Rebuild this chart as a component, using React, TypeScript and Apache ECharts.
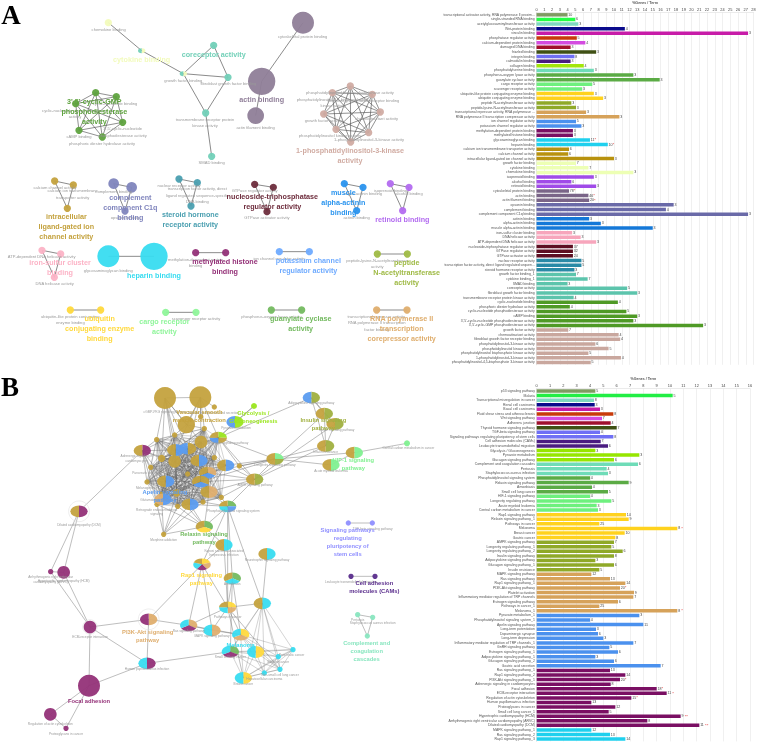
import React, { useEffect, useRef } from "react";
import * as echarts from "echarts";

// ---------- palette ----------
const P: Record<string, string> = {
  gold: "#c4a23e", blue: "#5b9cf0", lime: "#9be61f", olive: "#a0b040", mint: "#80f090", purple: "#943178",
  cyan: "#38dcf0", yel: "#ffd93d", peach: "#dfae6e", green: "#74ba60", pale: "#f2fbbc", seafoam: "#72d0b8",
  mauve: "#8f7e98", cgmp: "#5fa33f", rosy: "#d1aca3", slate: "#8085bd", teal: "#4a9fb0", maroon: "#6e2d3d",
  sky: "#2a94ee", violet: "#b36cf0", pink: "#fcb3c6", lblue: "#6fabff", pepolive: "#9fba45", indigo: "#5a2d8c",
  aqua: "#8ae6c0", peri: "#8f8fff", lgreen: "#8ff59a",
};

// ---------- bar chart A ----------
const catsA = [
  "transcriptional activator activity, RNA polymerase II proxim...", "single-stranded RNA binding", "acetylglucosaminyltransferase activity", "Wnt-protein binding", "vinculin binding", "phosphatase regulator activity", "calcium-dependent protein binding", "damaged DNA binding", "frizzled binding", "integrin binding", "calmodulin binding", "collagen binding", "phosphatidylserine binding", "phosphorus-oxygen lyase activity", "guanylate cyclase activity", "cargo receptor activity", "scavenger receptor activity", "ubiquitin-like protein conjugating enzyme binding", "ubiquitin conjugating enzyme binding", "peptide N-acetyltransferase activity", "peptide-lysine-N-acetyltransferase activity", "transcriptional repressor activity, RNA polymerase ...", "RNA polymerase II transcription corepressor activity", "ion channel regulator activity", "potassium channel regulator activity", "methylation-dependent protein binding", "methylated histone binding", "glycosaminoglycan binding", "heparin binding", "calcium ion transmembrane transporter activity", "calcium channel activity", "intracellular ligand-gated ion channel activity", "growth factor binding", "cytokine binding", "chemokine binding", "isoprenoid binding", "alcohol binding", "retinoid binding", "cytoskeletal protein binding", "actin binding", "actin filament binding", "opsonin binding", "complement binding", "complement component C1q binding", "actinin binding", "alpha-actinin binding", "muscle alpha-actinin binding", "iron-sulfur cluster binding", "DNA helicase activity", "ATP-dependent DNA helicase activity", "nucleoside-triphosphatase regulator activity", "GTPase regulator activity", "GTPase activator activity", "nuclear receptor activity", "transcription factor activity, direct ligand regulated sequen...", "steroid hormone receptor activity", "growth factor binding_1", "cytokine binding_1", "SMAD binding", "coreceptor activity", "fibroblast growth factor binding", "transmembrane receptor protein kinase activity", "cyclic-nucleotide binding", "phosphoric diester hydrolase activity", "cyclic-nucleotide phosphodiesterase activity", "cAMP binding", "3',5'-cyclic-nucleotide phosphodiesterase activity", "3',5'-cyclic-GMP phosphodiesterase activity", "growth factor activity", "chemoattractant activity", "fibroblast growth factor receptor binding", "phosphatidylinositol-3-kinase activity", "phosphatidylinositol kinase activity", "phosphatidylinositol bisphosphate kinase activity", "1-phosphatidylinositol-3-kinase activity", "phosphatidylinositol-4,5-bisphosphate 3-kinase activity",
];
const valsA = [4.0, 5.0, 5.4, 11.4, 27.3, 5.2, 6.3, 4.4, 7.7, 4.9, 4.4, 6.1, 7.4, 12.5, 15.9, 7.2, 5.9, 7.4, 8.6, 4.5, 5.1, 6.4, 10.7, 5.1, 5.8, 4.7, 4.7, 6.9, 9.2, 4.2, 4.1, 10.0, 5.1, 6.7, 12.5, 7.4, 4.5, 7.7, 4.2, 6.7, 6.8, 17.7, 16.7, 27.3, 6.8, 8.3, 15.0, 4.6, 5.7, 7.7, 4.7, 4.7, 4.7, 5.8, 5.8, 4.9, 5.1, 6.6, 4.0, 11.7, 13.0, 4.8, 10.5, 4.3, 11.6, 13.0, 12.5, 21.5, 4.1, 10.6, 10.8, 7.6, 9.3, 6.7, 10.9, 7.0];
const labelsA = ["10", "6", "3", "4", "3", "5", "4", "3", "3", "8", "3", "4", "3", "3", "3", "5", "3", "3", "3", "3", "3", "3", "3", "5", "3", "3", "3", "11*", "10*", "6", "6", "3", "7", "7", "3", "3", "6", "3", "78*", "46*", "20*", "3", "4", "3", "3", "3", "3", "3", "3", "3", "37", "32", "24", "5", "5", "3", "7", "7", "3", "5", "3", "4", "4", "4", "5", "3", "3", "3", "7", "4", "4", "6", "5", "5", "4", "5"];
const groupsA: [string, number][] = [["#7f9a62", 1], ["#22ff44", 1], ["#7fd8c0", 1], ["#0a0a8c", 1], ["#c71ca8", 1], ["#c83a0a", 1], ["#d44be0", 1], ["#a0102e", 1], ["#3f5014", 1], ["#6f6ff5", 1], ["#4a1c80", 1], ["#a3e60a", 1], ["#6fdcb8", 1], ["#5bab45", 2], ["#6ef07e", 2], ["#ffd21e", 2], ["#8fa928", 2], ["#d6a25a", 2], ["#4b91ee", 2], ["#7a0f63", 2], ["#1fd0ee", 2], ["#b8920e", 3], ["#edffb4", 3], ["#a04be8", 3], ["#7a6488", 3], ["#6a6aa8", 3], ["#1478d8", 3], ["#f7a6bc", 3], ["#5e0f22", 3], ["#2a8aa6", 3], ["#5cc4ac", 6], ["#4f9a26", 6], ["#c9a79e", 8]];

// ---------- bar chart B ----------
const catsB = [
  "p53 signaling pathway", "Malaria", "Transcriptional misregulation in cancer", "Renal cell carcinoma", "Basal cell carcinoma", "Fluid shear stress and atherosclerosis", "Wnt signaling pathway", "Adherens junction", "Thyroid hormone signaling pathway", "TGF-beta signaling pathway", "Signaling pathways regulating pluripotency of stem cells", "Cell adhesion molecules (CAMs)", "Leukocyte transendothelial migration", "Glycolysis / Gluconeogenesis", "Pyruvate metabolism", "Glucagon signaling pathway", "Complement and coagulation cascades", "Pertussis", "Staphylococcus aureus infection", "Phosphatidylinositol signaling system", "Relaxin signaling pathway", "Amoebiasis", "Small cell lung cancer", "HIF-1 signaling pathway", "Longevity regulating pathway", "Acute myeloid leukemia", "Central carbon metabolism in cancer", "Rap1 signaling pathway", "Relaxin signaling pathway_1", "Pathways in cancer", "Melanoma", "Breast cancer", "Gastric cancer", "AMPK signaling pathway", "Longevity regulating pathway_1", "Longevity regulating pathway_2", "Insulin signaling pathway", "Adipocytokine signaling pathway", "Glucagon signaling pathway_1", "Insulin resistance", "MAPK signaling pathway", "Ras signaling pathway", "Rap1 signaling pathway_1", "PI3K-Akt signaling pathway", "Platelet activation", "Inflammatory mediator regulation of TRP channels", "Estrogen signaling pathway", "Pathways in cancer_1", "Melanoma_1", "Pyruvate metabolism_1", "Phosphatidylinositol signaling system_1", "Apelin signaling pathway", "Long-term potentiation", "Dopaminergic synapse", "Long-term depression", "Inflammatory mediator regulation of TRP channels_1", "GnRH signaling pathway", "Estrogen signaling pathway_1", "Adipocytokine signaling pathway_1", "Glucagon signaling pathway_2", "Gastric acid secretion", "Ras signaling pathway_1", "Rap1 signaling pathway_2", "PI3K-Akt signaling pathway_1", "Adrenergic signaling in cardiomyocytes", "Focal adhesion", "ECM-receptor interaction", "Regulation of actin cytoskeleton", "Human papillomavirus infection", "Proteoglycans in cancer", "Small cell lung cancer_1", "Hypertrophic cardiomyopathy (HCM)", "Arrhythmogenic right ventricular cardiomyopathy (ARVC)", "Dilated cardiomyopathy (DCM)", "MAPK signaling pathway_1", "Ras signaling pathway_2", "Rap1 signaling pathway_3",
];
const valsB = [4.4, 10.2, 4.3, 4.35, 4.75, 5.75, 4.9, 5.55, 6.0, 4.75, 5.75, 4.8, 5.35, 4.4, 7.7, 5.8, 7.6, 5.25, 5.35, 4.0, 6.9, 4.15, 5.35, 4.0, 5.6, 4.5, 4.6, 6.7, 6.9, 4.7, 10.55, 6.6, 5.9, 5.8, 5.6, 6.45, 5.8, 4.4, 5.8, 4.7, 4.1, 5.5, 6.65, 6.25, 7.3, 7.25, 6.1, 4.7, 10.55, 7.7, 4.0, 8.0, 4.45, 4.6, 5.0, 7.25, 5.45, 6.1, 4.4, 5.8, 9.3, 5.5, 6.65, 6.25, 5.55, 9.0, 9.75, 7.1, 4.1, 5.9, 5.4, 10.8, 8.3, 12.2, 4.1, 5.5, 6.65];
const labelsB = ["5", "5", "8", "3", "3", "8", "7", "4", "7", "4", "8", "7", "6", "3", "3", "6", "6", "4", "3", "4", "9", "4", "5", "4", "5", "3", "3", "14", "9", "25", "8 *", "10", "8", "7", "5", "6", "8", "3", "6", "5", "12", "13", "14", "20*", "9", "7", "6", "25", "8 *", "3", "4", "11", "3", "6", "3", "7", "5", "6", "3", "6", "7", "13", "14", "20*", "8", "18*", "11 *", "15*", "13", "12", "5", "9 **", "8", "11 **", "12", "13", "14"];
const groupsB: [string, number][] = [["#7f9a62", 1], ["#22ee44", 1], ["#7fd8c0", 1], ["#0a0a8c", 1], ["#c71ca8", 1], ["#c83a0a", 1], ["#d44be0", 1], ["#a0102e", 1], ["#3f5014", 1], ["#6f6ff5", 2], ["#4a1c80", 2], ["#96e600", 3], ["#6fdcb8", 3], ["#5bab45", 4], ["#6ef07e", 4], ["#ffd21e", 6], ["#8fa928", 7], ["#d6a25a", 9], ["#4b91ee", 12], ["#7a0f63", 13], ["#1fd0ee", 3]];

// ---------- networks: [id, x, y, radius, colours clockwise from 12 o'clock] in units of 1/3 pixel ----------
type N = [string, number, number, number, string[]];
const one = (k: string) => [k];
const nodesA1: N[] = [
  ["chem", 325, 68, 11, one("pale")], ["cyto", 425, 152, 11, ["pale", "seafoam"]], ["gf", 550, 221, 11, ["pale", "seafoam"]], ["core", 641, 136, 11, one("seafoam")], ["fgf", 684, 232, 11, one("seafoam")], ["trpk", 617, 339, 11, one("seafoam")], ["smad", 635, 469, 11, one("seafoam")],
  ["csk", 909, 68, 33, one("mauve")], ["act", 785, 244, 41, one("mauve")], ["actf", 767, 347, 25, one("mauve")],
  ["c1", 287, 278, 11, one("cgmp")], ["c2", 349, 290, 11, one("cgmp")], ["c3", 368, 367, 11, one("cgmp")], ["c4", 307, 411, 11, one("cgmp")], ["c5", 237, 391, 11, one("cgmp")], ["c6", 227, 311, 11, one("cgmp")],
  ["k1", 1051, 258, 11, one("rosy")], ["k2", 1117, 283, 11, one("rosy")], ["k3", 1141, 336, 11, one("rosy")], ["k4", 1106, 398, 11, one("rosy")], ["k5", 1052, 426, 11, one("rosy")], ["k6", 1008, 388, 11, one("rosy")], ["k7", 971, 342, 11, one("rosy")], ["k8", 997, 278, 11, one("rosy")],
];
const nodesA2: N[] = [
  ["ic1", 164, 18, 11, one("gold")], ["ic2", 220, 30, 11, one("gold")], ["ic3", 202, 100, 11, one("gold")],
  ["cp1", 341, 26, 16, one("slate")], ["cp2", 395, 37, 16, one("slate")], ["cp3", 375, 108, 11, one("slate")],
  ["st1", 537, 12, 11, one("teal")], ["st2", 592, 23, 11, one("teal")], ["st3", 573, 93, 11, one("teal")],
  ["nt1", 764, 28, 11, one("maroon")], ["nt2", 820, 37, 11, one("maroon")], ["nt3", 801, 110, 11, one("maroon")],
  ["mu1", 1033, 26, 11, one("sky")], ["mu2", 1089, 37, 11, one("sky")], ["mu3", 1070, 107, 11, one("sky")],
  ["re1", 1171, 26, 11, one("violet")], ["re2", 1227, 37, 11, one("violet")], ["re3", 1208, 107, 11, one("violet")],
  ["ir1", 126, 226, 11, one("pink")], ["ir2", 182, 237, 11, one("pink")], ["ir3", 163, 307, 11, one("pink")],
  ["he1", 325, 244, 33, one("cyan")], ["he2", 462, 244, 41, one("cyan")],
  ["me1", 587, 233, 11, one("purple")], ["me2", 677, 233, 11, one("purple")],
  ["po1", 838, 230, 11, one("lblue")], ["po2", 928, 230, 11, one("lblue")],
  ["pe1", 1132, 237, 11, one("pepolive")], ["pe2", 1222, 237, 11, one("pepolive")],
  ["ub1", 211, 405, 11, one("yel")], ["ub2", 302, 405, 11, one("yel")],
  ["ca1", 497, 412, 11, one("lgreen")], ["ca2", 588, 412, 11, one("lgreen")],
  ["gu1", 814, 405, 11, one("green")], ["gu2", 905, 405, 11, one("green")],
  ["rn1", 1130, 405, 11, one("peach")], ["rn2", 1221, 405, 11, one("peach")],
];
const nodesB1: N[] = [
  ["t1", 495, 69, 33, one("gold")], ["t2", 601, 67, 33, one("gold")], ["t3", 559, 149, 26, one("gold")], ["t4", 643, 96, 8, one("gold")], ["t5", 602, 125, 8, one("gold")], ["t6", 613, 161, 8, one("gold")], ["t7", 524, 180, 8, one("gold")], ["t8", 470, 194, 8, one("gold")], ["t9", 603, 201, 19, one("gold")], ["t10", 485, 250, 11, one("gold")], ["t11", 524, 259, 19, one("gold")], ["t12", 643, 248, 8, one("gold")], ["t13", 452, 277, 8, one("gold")], ["t14", 563, 297, 8, one("gold")], ["t15", 441, 321, 8, one("gold")], ["t16", 530, 354, 11, one("gold")], ["t17", 484, 358, 8, one("gold")], ["t18", 471, 388, 8, one("gold")], ["t19", 533, 394, 8, one("gold")], ["t20", 609, 381, 8, one("gold")], ["t21", 664, 367, 8, one("gold")], ["t22", 718, 273, 8, one("gold")], ["morph", 491, 478, 8, one("gold")],
  ["pyr", 705, 141, 26, ["lime", "blue"]], ["gly", 762, 93, 9, one("lime")], ["glu", 655, 188, 26, ["lime", "gold", "blue", "gold"]], ["adr", 427, 227, 26, ["purple", "gold"]],
  ["p1", 527, 225, 26, ["blue", "gold"]], ["p2", 563, 221, 26, ["gold", "blue"]], ["p3", 597, 257, 26, ["blue", "gold"]], ["p4", 677, 271, 26, ["blue", "gold"]], ["p5", 623, 293, 26, ["peach", "blue", "gold"]], ["p6", 497, 319, 26, ["blue", "gold"]], ["p7", 602, 320, 26, ["gold", "blue", "gold"]], ["p8", 627, 351, 26, ["peach", "gold"]], ["p9", 570, 388, 26, ["blue", "gold"]], ["p10", 489, 373, 26, ["blue", "peach"]],
  ["lon", 825, 252, 26, ["mint", "olive", "gold", "gold"]], ["amp", 764, 313, 26, ["olive", "gold"]], ["adi", 934, 68, 26, ["olive", "blue"]], ["ins1", 973, 116, 26, ["olive", "gold"]], ["ins2", 1005, 147, 26, ["olive", "gold"]], ["ins3", 977, 213, 26, ["olive", "gold"]], ["hif", 1063, 233, 26, ["mint", "gold"]], ["aml", 993, 270, 26, ["mint", "gold"]], ["ccm", 1221, 205, 9, one("mint")],
  ["dcm", 237, 409, 26, ["purple", "gold"]], ["sys", 683, 394, 26, ["green", "blue", "cyan", "gold"]], ["rel", 613, 455, 26, ["green", "yel", "gold"]], ["kap", 672, 510, 26, ["cyan", "gold"]], ["neu", 801, 537, 26, ["cyan", "gold"]],
  ["sp1", 1045, 444, 8, one("peri")], ["sp2", 1117, 444, 8, one("peri")],
];
const nodesB2: N[] = [
  ["arvc", 152, 50, 8, one("purple")], ["hcm", 191, 52, 19, one("purple")], ["ecm", 270, 216, 19, one("purple")], ["foc", 267, 392, 33, one("purple")], ["reg", 151, 478, 19, one("purple")], ["pro", 198, 520, 8, one("purple")],
  ["pi3", 446, 193, 26, ["peach", "purple"]], ["hpv", 441, 325, 26, ["purple", "cyan"]], ["ras", 566, 211, 26, ["peach", "purple", "cyan"]], ["mapk", 636, 226, 26, ["peach", "cyan"]], ["rap", 606, 28, 26, ["yel", "peach", "purple", "cyan", "gold"]], ["amo", 697, 70, 26, ["green", "cyan", "gold"]], ["pat", 683, 157, 26, ["yel", "peach", "cyan", "gold"]], ["gas", 787, 145, 26, ["cyan", "gold"]], ["mel", 722, 239, 26, ["yel", "peach", "cyan"]], ["scl", 691, 290, 26, ["green", "purple", "cyan"]], ["bcc", 767, 291, 26, ["yel", "cyan"]], ["brc", 730, 369, 26, ["yel", "cyan"]],
  ["q1", 835, 305, 8, one("cyan")], ["q2", 879, 284, 8, one("cyan")], ["q3", 840, 343, 8, one("cyan")], ["q4", 793, 354, 8, one("cyan")],
  ["cam1", 1053, 64, 8, one("indigo")], ["cam2", 1125, 64, 8, one("indigo")], ["co1", 1073, 179, 8, one("aqua")], ["co2", 1118, 187, 8, one("aqua")], ["co3", 1102, 243, 8, one("aqua")],
];
const ringIds = ["dcm", "ecm", "pi3"];

const cliquesHeavy: string[][] = [
  ["c1", "c2", "c3", "c4", "c5", "c6"],
  ["k1", "k2", "k3", "k4", "k5", "k6", "k7", "k8"],
];
const cliquesThin: string[][] = [
  ["t6", "t7", "t8", "t9", "t10", "t11", "t12", "t13", "t14", "t15", "t16", "t17", "t18", "t19", "t20", "t21", "glu", "p1", "p2", "p3", "p4", "p5", "p6", "p7", "p8", "p9", "p10"],
  ["mel", "scl", "bcc", "brc", "q1", "q2", "q3", "q4", "gas"],
];
const edgesA: [string, string][] = [
  ["chem", "cyto"], ["cyto", "gf"], ["gf", "core"], ["gf", "fgf"], ["gf", "trpk"], ["core", "fgf"], ["fgf", "trpk"], ["trpk", "smad"], ["csk", "act"], ["act", "actf"],
  ["ic1", "ic2"], ["ic1", "ic3"], ["ic2", "ic3"], ["cp1", "cp2"], ["cp1", "cp3"], ["cp2", "cp3"], ["st1", "st2"], ["st1", "st3"], ["st2", "st3"], ["nt1", "nt2"], ["nt1", "nt3"], ["nt2", "nt3"], ["mu1", "mu2"], ["mu1", "mu3"], ["mu2", "mu3"], ["re1", "re2"], ["re1", "re3"], ["re2", "re3"], ["ir1", "ir2"], ["ir1", "ir3"], ["ir2", "ir3"],
  ["he1", "he2"], ["me1", "me2"], ["po1", "po2"], ["pe1", "pe2"], ["ub1", "ub2"], ["ca1", "ca2"], ["gu1", "gu2"], ["rn1", "rn2"],
];
const edgesB: [string, string][] = [
  ["t1", "t2"], ["t1", "t3"], ["t1", "t7"], ["t1", "t8"], ["t1", "p1"], ["t1", "p2"], ["t1", "t9"], ["t1", "t10"], ["t1", "t11"], ["t2", "t4"], ["t2", "t3"], ["t2", "t5"], ["t2", "t6"], ["t2", "t9"], ["t2", "p2"], ["t2", "p1"], ["t2", "glu"], ["t3", "t6"], ["t3", "t7"],
  ["pyr", "gly"], ["pyr", "glu"], ["glu", "gly"], ["glu", "lon"], ["glu", "t22"], ["glu", "amp"], ["glu", "adi"], ["lon", "ins1"], ["lon", "ins3"], ["lon", "hif"], ["lon", "aml"], ["lon", "t22"], ["lon", "p4"], ["lon", "p5"], ["lon", "p7"], ["lon", "amp"], ["amp", "ins2"], ["amp", "ins3"], ["amp", "p5"], ["amp", "p8"], ["amp", "p4"], ["amp", "t21"], ["amp", "t22"], ["amp", "sys"], ["amp", "p7"],
  ["adi", "ins1"], ["adi", "ins2"], ["adi", "ins3"], ["ins1", "ins2"], ["ins1", "ins3"], ["ins2", "ins3"], ["hif", "ccm"], ["hif", "aml"],
  ["adr", "dcm"], ["adr", "t8"], ["adr", "t7"], ["adr", "t10"], ["adr", "p1"], ["adr", "t11"], ["adr", "t13"], ["adr", "t15"], ["adr", "p6"], ["adr", "t17"], ["adr", "t18"],
  ["morph", "t18"], ["morph", "t17"], ["morph", "t19"], ["morph", "p9"], ["morph", "t20"], ["morph", "t16"], ["morph", "rel"],
  ["rel", "sys"], ["rel", "p9"], ["rel", "p8"], ["rel", "t19"], ["rel", "p6"], ["rel", "t18"], ["rel", "kap"], ["sys", "t21"], ["sys", "p8"], ["sys", "p9"], ["sys", "t20"], ["sys", "amo"], ["sys", "rap"], ["sys", "pat"], ["sys", "gas"], ["kap", "pat"], ["kap", "rap"], ["neu", "gas"],
  ["dcm", "hcm"], ["dcm", "arvc"], ["hcm", "arvc"], ["hcm", "ecm"], ["arvc", "ecm"], ["ecm", "foc"], ["ecm", "pi3"], ["ecm", "hpv"], ["pi3", "hpv"], ["pi3", "rap"], ["pi3", "ras"], ["foc", "hpv"], ["foc", "reg"], ["foc", "pro"], ["reg", "pro"], ["hpv", "scl"],
  ["ras", "mapk"], ["ras", "rap"], ["mapk", "rap"], ["mapk", "mel"], ["mapk", "pat"], ["ras", "pat"], ["rap", "pat"], ["pat", "mel"], ["pat", "amo"], ["pat", "brc"], ["pat", "q3"], ["amo", "scl"], ["amo", "mel"], ["gas", "pat"], ["ras", "mel"],
  ["sp1", "sp2"], ["cam1", "cam2"], ["co1", "co2"], ["co1", "co3"], ["co2", "co3"],
];

// ---------- labels: [text, x, y of first line, colour key] ----------
type L = [string, number, number, string?];
const smallA1: L[] = [
  ["chemokine binding", 326, 88], ["cytoskeletal protein binding", 908, 110], ["growth factor binding", 550, 241], ["fibroblast growth factor binding", 685, 251], ["transmembrane receptor protein\nkinase activity", 615, 359], ["actin filament binding", 767, 382], ["SMAD binding", 635, 489], ["cyclic-nucleotide binding", 345, 310], ["cyclic-nucleotide phosphodiesterase\nactivity", 225, 332], ["3',5'-cyclic-nucleotide\nphosphodiesterase activity", 368, 387], ["cAMP binding", 237, 411], ["phosphoric diester hydrolase activity", 306, 431],
  ["phosphatidylinositol bisphosphate kinase activity", 1050, 278], ["phosphatidylinositol-4,5-bisphosphate 3-\nkinase activity", 1000, 298], ["fibroblast growth factor receptor binding", 1090, 303], ["growth factor activity", 970, 362], ["chemoattractant activity", 1130, 355], ["phosphatidylinositol kinase activity", 990, 408], ["1-phosphatidylinositol-3-kinase activity", 1107, 418],
];
const titleA1: L[] = [
  ["cytokine binding", 425, 179, "pale"], ["coreceptor activity", 641, 162, "seafoam"], ["actin binding", 785, 299, "mauve"], ["3',5'-cyclic-GMP\nphosphodiesterase\nactivity", 283, 305, "cgmp"], ["1-phosphatidylinositol-3-kinase\nactivity", 1050, 452, "rosy"],
];
const smallA2: L[] = [
  ["calcium channel activity", 165, 38], ["calcium ion transmembrane\ntransporter activity", 218, 48], ["complement binding", 341, 51], ["opsonin binding", 375, 128], ["nuclear receptor activity", 537, 31], ["transcription factor activity, direct\nligand regulated sequence-specific\nDNA binding", 592, 42], ["GTPase regulator activity", 764, 48], ["GTPase activator activity", 801, 129], ["actinin binding", 1070, 127], ["alpha-actinin binding", 1090, 57], ["isoprenoid binding", 1171, 46], ["alcohol binding", 1227, 57], ["ATP-dependent DNA helicase activity", 125, 245], ["DNA helicase activity", 164, 326], ["glycosaminoglycan binding", 325, 286], ["methylation-dependent protein\nbinding", 587, 253], ["ion channel regulator activity", 838, 250], ["peptide-lysine-N-acetyltransferase\nactivity", 1132, 256], ["ubiquitin-like protein conjugating\nenzyme binding", 211, 425], ["scavenger receptor activity", 588, 432], ["phosphorus-oxygen lyase activity", 814, 425], ["transcriptional repressor activity,\nRNA polymerase II transcription\nfactor binding", 1130, 425],
];
const titleA2: L[] = [
  ["intracellular\nligand-gated ion\nchannel activity", 199, 125, "gold"], ["complement\ncomponent C1q\nbinding", 391, 68, "slate"], ["steroid hormone\nreceptor activity", 571, 119, "teal"], ["nucleoside-triphosphatase\nregulator activity", 817, 63, "maroon"], ["muscle\nalpha-actinin\nbinding", 1030, 53, "sky"], ["retinoid binding", 1207, 133, "violet"], ["iron-sulfur cluster\nbinding", 180, 263, "pink"], ["heparin binding", 462, 301, "cyan"], ["methylated histone\nbinding", 675, 258, "purple"], ["potassium channel\nregulator activity", 925, 256, "lblue"], ["peptide\nN-acetyltransferase\nactivity", 1220, 262, "pepolive"], ["ubiquitin\nconjugating enzyme\nbinding", 299, 430, "yel"], ["cargo receptor\nactivity", 493, 438, "lgreen"], ["guanylate cyclase\nactivity", 902, 431, "green"], ["RNA polymerase II\ntranscription\ncorepressor activity", 1205, 430, "peach"],
];
const smallB1: L[] = [
  ["cGMP-PKG signaling pathway", 495, 110], ["Aldosterone synthesis and secretion", 640, 112], ["Pyruvate metabolism", 708, 157], ["Glucagon signaling pathway", 685, 204], ["Adipocytokine signaling pathway", 934, 84], ["Insulin signaling pathway", 1010, 163], ["Insulin resistance", 977, 229], ["Central carbon metabolism in cancer", 1225, 219], ["Acute myeloid leukemia", 993, 287], ["Longevity regulating pathway", 825, 268], ["AMPK signaling pathway", 765, 328], ["Adrenergic signaling in\ncardiomyocytes", 410, 243], ["Pancreatic secretion", 440, 293], ["Melanogenesis", 440, 337], ["Glutamatergic synapse", 470, 374], ["Retrograde endocannabinoid\nsignaling", 470, 404], ["Morphine addiction", 491, 493], ["Dilated cardiomyopathy (DCM)", 237, 449], ["Phosphatidylinositol signaling system", 700, 408], ["Kaposi sarcoma-associated\nherpesvirus infection", 672, 526], ["Neurotrophin signaling pathway", 801, 553], ["TGF-beta signaling pathway", 1118, 461],
];
const titleB1: L[] = [
  ["Vascular smooth\nmuscle contraction", 598, 112, "gold"], ["Glycolysis /\nGluconeogenesis", 760, 113, "lime"], ["Insulin signaling\npathway", 970, 136, "olive"], ["HIF-1 signaling\npathway", 1060, 255, "mint"], ["Apelin signaling\npathway", 495, 350, "blue"], ["Relaxin signaling\npathway", 612, 476, "green"], ["Signaling pathways\nregulating\npluripotency of\nstem cells", 1043, 466, "peri"],
];
const smallB2: L[] = [
  ["Arrhythmogenic right ventricular\ncardiomyopathy (ARVC)", 152, 66], ["Hypertrophic cardiomyopathy (HCM)", 191, 77], ["ECM-receptor interaction", 270, 244], ["Human papillomavirus infection", 441, 342], ["Regulation of actin cytoskeleton", 151, 506], ["Proteoglycans in cancer", 198, 535], ["Amoebiasis", 697, 86], ["Pathways in cancer", 683, 184], ["Ras signaling pathway", 566, 228], ["MAPK signaling pathway", 636, 243], ["Small cell lung cancer", 691, 306], ["Pancreatic cancer", 875, 300], ["Bladder cancer", 835, 321], ["Non-small cell lung cancer", 840, 358], ["Hepatocellular carcinoma", 793, 370], ["Breast cancer", 730, 385], ["Leukocyte transendothelial migration", 1053, 80], ["Pertussis", 1073, 195], ["Staphylococcus aureus infection", 1118, 203],
];
const titleB2: L[] = [
  ["PI3K-Akt signaling\npathway", 443, 230, "peach"], ["Focal adhesion", 267, 437, "purple"], ["Rap1 signaling\npathway", 604, 60, "yel"], ["Melanoma", 722, 271, "cyan"], ["Cell adhesion\nmolecules (CAMs)", 1123, 85, "indigo"], ["Complement and\ncoagulation\ncascades", 1100, 265, "aqua"],
];
const panelLetters: L[] = [["A", 33, 45], ["B", 30, 1160]];

// vertical offsets of each crop of the figure, in the same units
const DY = { a1: 0, a2: 525, b1: 1125, b2: 1665 };

const shiftN = (l: N[], dy: number): N[] => l.map((n) => [n[0], n[1], n[2] + dy, n[3], n[4]]);
const shiftL = (l: L[], dy: number): L[] => l.map((n) => [n[0], n[1], n[2] + dy, n[3]]);
const expand = (g: [string, number][]) => g.flatMap(([c, k]) => Array(k).fill(c));

const FONT = '"Liberation Sans", Arial, sans-serif';

function textSeries(list: L[], size: number, lh: number, weight: string, fill: string | null, family = FONT, z = 5) {
  return {
    type: "custom", coordinateSystem: "cartesian2d", xAxisIndex: 2, yAxisIndex: 2, silent: true, z,
    data: list.map((l, i) => [l[1], l[2], i]),
    encode: { x: 0, y: 1 },
    renderItem: (_p: any, api: any) => {
      const item = list[api.value(2)];
      const [x, y] = api.coord([api.value(0), api.value(1)]);
      return {
        type: "text", x, y: y - lh / 2,
        style: { text: item[0], fontSize: size, fontWeight: weight, fontFamily: family, fill: fill ?? P[item[3] as string], align: "center", verticalAlign: "top", lineHeight: lh },
      };
    },
  };
}

function barParts(idx: number, cats: string[], vals: number[], labels: string[], colors: string[], max: number, top: number, bottom: number, right: number, left: number, barWidth: number) {
  return {
    grid: { left, right, top, bottom, containLabel: false },
    xAxis: {
      type: "value", gridIndex: idx, position: "top", min: 0, max, interval: 1,
      name: "%Genes / Term", nameLocation: "middle", nameGap: 7.5,
      nameTextStyle: { fontSize: 3.6, fontFamily: FONT, fontWeight: "bold", color: "#555" },
      axisLabel: { fontSize: 3.9, margin: 1.5, color: "#444", fontFamily: FONT },
      axisTick: { show: false },
      axisLine: { show: true, lineStyle: { color: "#ddd", width: 0.6 } },
      splitLine: { show: true, lineStyle: { color: "#e6e6e6", width: 0.6 } },
    },
    yAxis: {
      type: "category", gridIndex: idx, data: cats, inverse: true,
      axisLabel: { fontSize: 3.45, interval: 0, margin: 1.8, color: "#555", fontFamily: FONT },
      axisTick: { show: false },
      axisLine: { show: true, lineStyle: { color: "#ddd", width: 0.6 } },
      splitLine: { show: false },
    },
    series: {
      type: "bar", xAxisIndex: idx, yAxisIndex: idx, barWidth, silent: true,
      data: vals.map((v, i) => ({ value: v, itemStyle: { color: colors[i] } })),
      label: {
        show: true, position: "right", distance: 0.8,
        formatter: (p: any) => {
          const t = labels[p.dataIndex];
          const m = t.match(/^(\d+)(\s*\*+)?$/);
          return m && m[2] ? `{v|${m[1]}}{s|${m[2]}}` : `{v|${t}}`;
        },
        rich: { v: { fontSize: 3.6, color: "#444", fontFamily: FONT }, s: { fontSize: 4.2, color: "#e03030", fontFamily: FONT } },
      },
    },
  };
}

export default function App() {
  const ref = useRef<HTMLDivElement>(null);
  useEffect(() => {
    const chart = echarts.init(ref.current!, undefined, { renderer: "svg" });

    const nodes: N[] = [...shiftN(nodesA1, DY.a1), ...shiftN(nodesA2, DY.a2), ...shiftN(nodesB1, DY.b1), ...shiftN(nodesB2, DY.b2)];
    const byId = new Map(nodes.map((n) => [n[0], n]));
    const seg = (a: string, b: string, w: number, c: string) => {
      const p = byId.get(a)!, q = byId.get(b)!;
      return [p[1], p[2], q[1], q[2], w, c];
    };
    const links: any[] = [];
    const addClique = (ids: string[], w: number, c: string) => {
      ids.forEach((a, i) => ids.slice(i + 1).forEach((b) => links.push(seg(a, b, w, c))));
    };
    cliquesThin.forEach((ids) => addClique(ids, 0.45, "rgba(95,95,95,0.6)"));
    cliquesHeavy.forEach((ids) => addClique(ids, 0.9, "rgba(80,80,80,0.7)"));
    edgesA.forEach(([a, b]) => links.push(seg(a, b, 1, "rgba(110,110,110,0.8)")));
    edgesB.forEach(([a, b]) => links.push(seg(a, b, 0.6, "rgba(110,110,110,0.75)")));

    const a = barParts(0, catsA, valsA, labelsA, expand(groupsA), 28, 10.7, 379.2, 6.5, 536.5, 3.5);
    const b = barParts(1, catsB, valsB, labelsB, expand(groupsB), 16, 388.7, 2.6, 10, 536.7, 3.5);

    chart.setOption({
      animation: false,
      backgroundColor: "#fff",
      grid: [a.grid, b.grid, { left: 0, right: 0, top: 0, bottom: 0 }],
      xAxis: [a.xAxis, b.xAxis, { type: "value", gridIndex: 2, min: 0, max: 2280, show: false }],
      yAxis: [a.yAxis, b.yAxis, { type: "value", gridIndex: 2, min: 0, max: 2232, inverse: true, show: false }],
      series: [
        a.series,
        b.series,
        {
          type: "custom", coordinateSystem: "cartesian2d", xAxisIndex: 2, yAxisIndex: 2, silent: true, z: 3,
          data: links.map((l, i) => [l[0], l[1], l[2], l[3], i]),
          encode: { x: 0, y: 1 },
          renderItem: (_p: any, api: any) => {
            const [x1, y1] = api.coord([api.value(0), api.value(1)]);
            const [x2, y2] = api.coord([api.value(2), api.value(3)]);
            const l = links[api.value(4)];
            return { type: "line", shape: { x1, y1, x2, y2 }, style: { stroke: l[5], lineWidth: l[4], fill: null } };
          },
        },
        {
          type: "custom", coordinateSystem: "cartesian2d", xAxisIndex: 2, yAxisIndex: 2, silent: true, z: 4,
          data: nodes.map((n, i) => [n[1], n[2], i]),
          encode: { x: 0, y: 1 },
          renderItem: (_p: any, api: any) => {
            const n = nodes[api.value(2)];
            const [x, y] = api.coord([api.value(0), api.value(1)]);
            const r = n[3] / 3;
            const cols = n[4];
            const pieCount = cols.length;
            const children: any[] = [];
            if (ringIds.includes(n[0])) {
              children.push({ type: "circle", x, y, shape: { cx: 0, cy: 0, r: r * (pieCount > 1 ? 1.2 : 1.15) }, style: { fill: "none", stroke: "#ddd", lineWidth: 0.5 } });
            }
            if (pieCount === 1) {
              children.push({ type: "circle", x, y, shape: { cx: 0, cy: 0, r }, style: { fill: P[cols[0]], opacity: 0.95 } });
            } else {
              const step = (Math.PI * 2) / pieCount;
              children.push({
                type: "group", x, y, scaleY: 0.68,
                children: cols.map((c, i) => ({
                  type: "sector",
                  shape: { cx: 0, cy: 0, r0: 0, r, startAngle: -Math.PI / 2 + i * step, endAngle: -Math.PI / 2 + (i + 1) * step, clockwise: true },
                  style: { fill: P[c], opacity: 0.95 },
                })),
              });
            }
            return { type: "group", children };
          },
        },
        textSeries([...shiftL(smallA1, DY.a1), ...shiftL(smallA2, DY.a2)], 4.1, 6.2, "normal", "#9a9a9a"),
        textSeries([...shiftL(smallB1, DY.b1), ...shiftL(smallB2, DY.b2)], 3.2, 4.5, "normal", "#9a9a9a"),
        textSeries([...shiftL(titleA1, DY.a1), ...shiftL(titleA2, DY.a2)], 7.2, 10, "bold", null, FONT, 6),
        textSeries([...shiftL(titleB1, DY.b1), ...shiftL(titleB2, DY.b2)], 5.8, 8, "bold", null, FONT, 6),
        textSeries(panelLetters, 27, 28, "bold", "#000", '"Liberation Serif", serif', 6),
      ],
    } as any);
    return () => chart.dispose();
  }, []);
  return <div ref={ref} style={{ position: "absolute", left: 0, top: 0, width: 760, height: 744, filter: "blur(0.35px)" }} />;
}
